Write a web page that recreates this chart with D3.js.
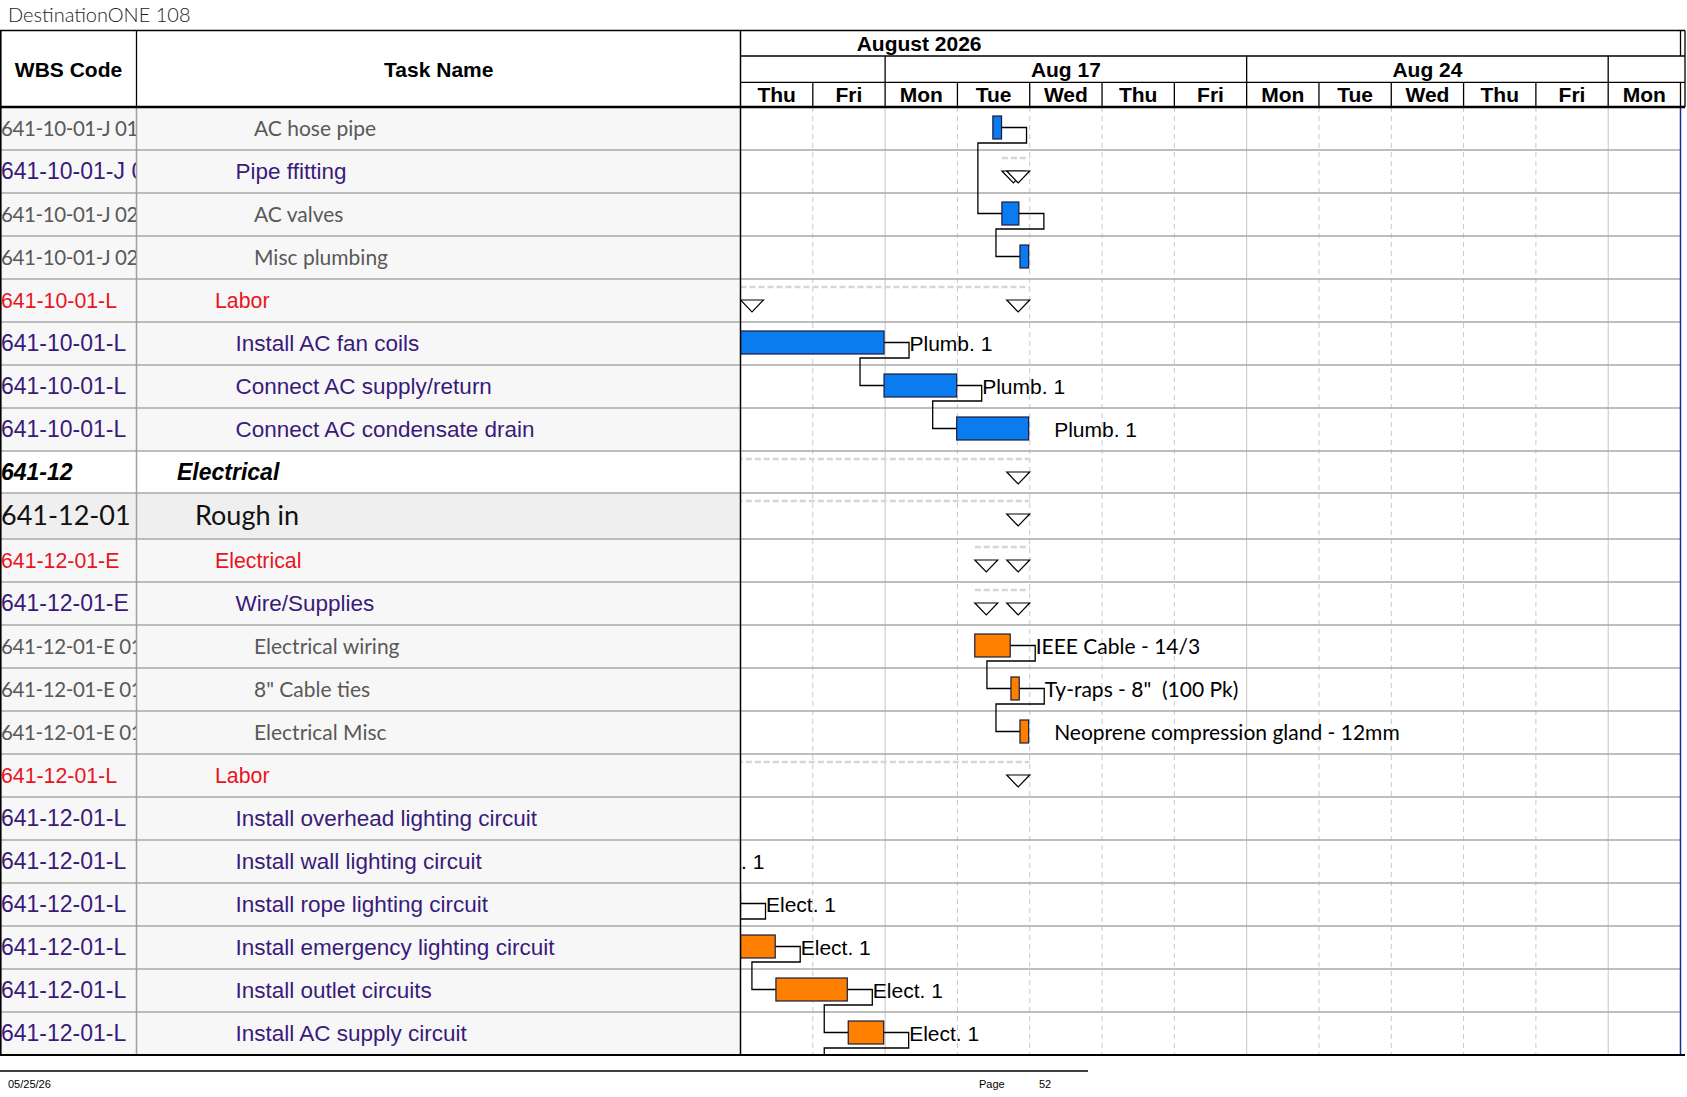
<!DOCTYPE html>
<html>
<head>
<meta charset="utf-8">
<script src="https://cdn.jsdelivr.net/npm/d3@7"></script>
<style>
  body { margin: 0; background: #fff; }
  svg { display: block; }
  text { white-space: pre; }
</style>
</head>
<body>
<div id="gantt"></div>
<script>
// ---- data ----
const wbsCodes = [
  "641-10-01-J 01", "641-10-01-J 02", "641-10-01-J 02 01", "641-10-01-J 02 02",
  "641-10-01-L", "641-10-01-L", "641-10-01-L", "641-10-01-L",
  "641-12", "641-12-01", "641-12-01-E", "641-12-01-E",
  "641-12-01-E 01 01", "641-12-01-E 01 02", "641-12-01-E 01 03",
  "641-12-01-L", "641-12-01-L", "641-12-01-L", "641-12-01-L", "641-12-01-L", "641-12-01-L", "641-12-01-L"
]
const taskNames = [
  "AC hose pipe", "Pipe ffitting", "AC valves", "Misc plumbing",
  "Labor", "Install AC fan coils", "Connect AC supply/return", "Connect AC condensate drain",
  "Electrical", "Rough in", "Electrical", "Wire/Supplies",
  "Electrical wiring", "8\" Cable ties", "Electrical Misc",
  "Labor", "Install overhead lighting circuit", "Install wall lighting circuit", "Install rope lighting circuit",
  "Install emergency lighting circuit", "Install outlet circuits", "Install AC supply circuit"
]
// row kind drives the text style of the table
const rowKinds = [
  "item", "task", "item", "item",
  "group", "task", "task", "task",
  "phase", "section", "group", "task",
  "item", "item", "item",
  "group", "task", "task", "task", "task", "task", "task"
]
const isSummary = [0,1,0,0, 1,0,0,0, 1,1,1,1, 0,0,0, 1,0,0,0,0,0,0]
const trades = [
  "plumb","plumb","plumb","plumb","plumb","plumb","plumb","plumb",
  "elec","elec","elec","elec","elec","elec","elec","elec","elec","elec","elec","elec","elec","elec"
]
// start / finish in working days from Thu Aug 13, 2026 (fractions = hours)
const startDays  = [3.49, 3.615, 3.615, 3.865, 0, 0, 1.985, 2.99, -12, -12, 3.24, 3.24, 3.24, 3.74, 3.865, -12, -2.5, -1.5, -1, 0, 0.49, 1.49]
const finishDays = [3.61, 4, 3.85, 3.985, 4, 1.985, 2.99, 3.985, 4, 4, 4, 4, 3.73, 3.855, 3.985, 4, -1.5, -0.99, 0, 0.48, 1.477, 1.98]
const resourceLabels = [
  "", "", "", "", "", "Plumb. 1", "Plumb. 1", "Plumb. 1", "", "", "", "",
  "IEEE Cable - 14/3", "Ty-raps - 8\"  (100 Pk)", "Neoprene compression gland - 12mm",
  "", "Elect. 1", "Elect. 1", "Elect. 1", "Elect. 1", "Elect. 1", "Elect. 1"
]
// index of the successor row, -1 = none, 22 = continues on next page
const successors = [2, -1, 3, -1, -1, 6, 7, -1, -1, -1, -1, -1, 13, 14, -1, -1, 17, 18, 19, 20, 21, 22]

const workDays = [
  "2026-08-13", "2026-08-14", "2026-08-17", "2026-08-18", "2026-08-19", "2026-08-20", "2026-08-21",
  "2026-08-24", "2026-08-25", "2026-08-26", "2026-08-27", "2026-08-28", "2026-08-31"
]

const title = "DestinationONE 108"
const printDate = "05/25/26"
const pageNumber = "52"

// ---- layout ----
const width = 1687, height = 1097
const wbsRight = 137
const ganttLeft = 740.5, ganttRight = 1680.5, frameRight = 1685
const headTop = 30.5, monthBottom = 56, weekBottom = 82.3, headBottom = 107
const rowHeights = taskNames.map((d, i) => i === 8 ? 42 : i === 9 ? 46 : 43)
const rowTops = []
rowHeights.reduce((acc, h, i) => { rowTops[i] = acc; return acc + h }, headBottom)
const bodyBottom = rowTops[rowTops.length - 1] + rowHeights[rowHeights.length - 1]

const arial = "'Liberation Sans', Arial, sans-serif"
const lato = "Lato, 'Open Sans', sans-serif"
const tradeColors = { plumb: "#0a7cf0", elec: "#ff8000" }

const styles = {
  item:    { font: lato,  size: 21,   wbsSize: 20.5, spacing: -0.4, weight: 400, italic: false, color: "#595959", indent: 254 },
  task:    { font: arial, size: 22.5, wbsSize: 23, spacing: 0, weight: 400, italic: false, color: "#3a1a7a", indent: 235.5 },
  group:   { font: arial, size: 21.3, wbsSize: 21.3, spacing: 0, weight: 400, italic: false, color: "#e8141e", indent: 215 },
  phase:   { font: arial, size: 23,   wbsSize: 23, spacing: 0, weight: 700, italic: true,  color: "#000", indent: 177 },
  section: { font: lato,  size: 27,   wbsSize: 27, spacing: 0, weight: 400, italic: false, color: "#111", indent: 195 }
}
const rowFills = { phase: "#ffffff", section: "#efefef" }

const parseDay = d3.timeParse("%Y-%m-%d")
const dates = workDays.map(parseDay)

const x = d3.scaleLinear()
  .domain([0, dates.length])
  .range([ganttLeft, ganttRight])

const rows = taskNames.map((name, i) => ({
  i, name, wbs: wbsCodes[i], kind: rowKinds[i],
  top: rowTops[i], h: rowHeights[i],
  summary: !!isSummary[i], start: startDays[i], finish: finishDays[i],
  label: resourceLabels[i], succ: successors[i], color: tradeColors[trades[i]]
}))

const svg = d3.select("#gantt").append("svg")
  .attr("width", width)
  .attr("height", height)

const defs = svg.append("defs")
defs.append("clipPath").attr("id", "clip-wbs")
  .append("rect").attr("x", 0).attr("y", headBottom).attr("width", wbsRight - 1).attr("height", bodyBottom - headBottom)
defs.append("clipPath").attr("id", "clip-name")
  .append("rect").attr("x", wbsRight).attr("y", headBottom).attr("width", ganttLeft - wbsRight).attr("height", bodyBottom - headBottom)
defs.append("clipPath").attr("id", "clip-gantt")
  .append("rect").attr("x", ganttLeft).attr("y", headBottom).attr("width", ganttRight - ganttLeft).attr("height", bodyBottom - headBottom)

// page title
svg.append("text")
  .attr("x", 8).attr("y", 22)
  .attr("font-family", lato).attr("font-weight", 300).attr("font-size", 20)
  .attr("fill", "#222")
  .text(title)

// ---- table body ----
const table = svg.append("g")

table.selectAll(".row-bg")
  .data(rows)
  .join("rect")
  .attr("class", "row-bg")
  .attr("x", 0).attr("y", d => d.top)
  .attr("width", ganttLeft).attr("height", d => d.h)
  .attr("fill", d => rowFills[d.kind] || "#f7f7f7")

const wbsText = table.append("g").attr("clip-path", "url(#clip-wbs)")
wbsText.selectAll("text")
  .data(rows)
  .join("text")
  .attr("x", 1)
  .attr("y", d => d.top + d.h / 2 + styles[d.kind].wbsSize * 0.345)
  .attr("font-family", d => styles[d.kind].font)
  .attr("font-size", d => styles[d.kind].wbsSize)
  .attr("letter-spacing", d => styles[d.kind].spacing)
  .attr("font-weight", d => styles[d.kind].weight)
  .attr("font-style", d => styles[d.kind].italic ? "italic" : "normal")
  .attr("fill", d => styles[d.kind].color)
  .text(d => d.wbs)

const nameText = table.append("g").attr("clip-path", "url(#clip-name)")
nameText.selectAll("text")
  .data(rows)
  .join("text")
  .attr("x", d => styles[d.kind].indent)
  .attr("y", d => d.top + d.h / 2 + styles[d.kind].size * 0.345)
  .attr("font-family", d => styles[d.kind].font)
  .attr("font-size", d => styles[d.kind].size)
  .attr("font-weight", d => styles[d.kind].weight)
  .attr("font-style", d => styles[d.kind].italic ? "italic" : "normal")
  .attr("fill", d => styles[d.kind].color)
  .text(d => d.name)

// ---- gantt grid ----
const grid = svg.append("g")
const boundaries = d3.range(1, dates.length)
grid.selectAll(".day-line")
  .data(boundaries)
  .join("line")
  .attr("class", "day-line")
  .attr("x1", d => x(d)).attr("x2", d => x(d))
  .attr("y1", headBottom).attr("y2", bodyBottom)
  .attr("stroke", d => dates[d].getDay() === 1 ? "#c4c4c4" : "#c8c8c8")
  .attr("stroke-width", 1)
  .attr("stroke-dasharray", d => dates[d].getDay() === 1 ? null : "5,4")

// horizontal row lines across table and chart
svg.append("g").selectAll("line")
  .data(rows.slice(1))
  .join("line")
  .attr("x1", 0).attr("x2", ganttRight)
  .attr("y1", d => d.top).attr("y2", d => d.top)
  .attr("stroke", "#a8a8a8").attr("stroke-width", 1.5)

// WBS / task name separator in body
svg.append("line")
  .attr("x1", wbsRight - 0.5).attr("x2", wbsRight - 0.5)
  .attr("y1", headBottom).attr("y2", bodyBottom)
  .attr("stroke", "#a0a0a0").attr("stroke-width", 1.5)

// ---- bars, summaries, links ----
const chart = svg.append("g").attr("clip-path", "url(#clip-gantt)")
const barTop = d => d.top + 9
const barH = 23
const barMid = d => barTop(d) + barH / 2

const summaries = rows.filter(d => d.summary)
chart.selectAll(".summary-line")
  .data(summaries)
  .join("line")
  .attr("class", "summary-line")
  .attr("x1", d => x(d.start)).attr("x2", d => x(d.finish))
  .attr("y1", d => d.top + 8).attr("y2", d => d.top + 8)
  .attr("stroke", "#d6d6d6").attr("stroke-width", 2.5)
  .attr("stroke-dasharray", "6,3")

const triW = 23, triH = 12
chart.selectAll(".tri-start")
  .data(summaries.filter(d => d.start >= 0))
  .join("path")
  .attr("class", "tri-start")
  .attr("d", d => {
    const s = x(d.start), t = d.top + 21
    return `M${s},${t}H${s + triW}L${s + triW / 2},${t + triH}Z`
  })
  .attr("fill", "#fff").attr("stroke", "#000").attr("stroke-width", 1.2)
chart.selectAll(".tri-end")
  .data(summaries)
  .join("path")
  .attr("class", "tri-end")
  .attr("d", d => {
    const e = x(d.finish), t = d.top + 21
    return `M${e - triW},${t}H${e}L${e - triW / 2},${t + triH}Z`
  })
  .attr("fill", "#fff").attr("stroke", "#000").attr("stroke-width", 1.2)

const tasks = rows.filter(d => !d.summary)

// links: out of the bar end, drop below, back left, down to the next bar start
const links = tasks.filter(d => d.succ >= 0)
chart.selectAll(".link")
  .data(links)
  .join("path")
  .attr("class", "link")
  .attr("d", d => {
    const e = x(d.finish)
    const next = rows[d.succ]
    const s = next ? x(next.start) : x(d.start)
    const yNext = next ? barMid(next) : bodyBottom + 30
    const yDrop = barTop(d) + barH + 4
    return `M${e},${barMid(d)}H${e + 25}V${yDrop}H${s - 24}V${yNext}H${s}`
  })
  .attr("fill", "none").attr("stroke", "#000").attr("stroke-width", 1.3)

chart.selectAll(".bar")
  .data(tasks)
  .join("rect")
  .attr("class", "bar")
  .attr("x", d => x(d.start))
  .attr("y", barTop)
  .attr("width", d => x(d.finish) - x(d.start))
  .attr("height", barH)
  .attr("fill", d => d.color)
  .attr("stroke", "#1b1b3a").attr("stroke-width", 1.2)

chart.selectAll(".res-label")
  .data(tasks.filter(d => d.label))
  .join("text")
  .attr("class", "res-label")
  .attr("x", d => x(d.finish) + 25.5)
  .attr("y", d => barMid(d) + 8)
  .attr("font-family", d => d.kind === "item" ? lato : arial)
  .attr("font-size", 21)
  .attr("fill", "#000")
  .text(d => d.label)

// project finish marker at right edge
svg.append("line")
  .attr("x1", ganttRight).attr("x2", ganttRight)
  .attr("y1", headBottom).attr("y2", bodyBottom)
  .attr("stroke", "#1f2a9a").attr("stroke-width", 1.5)

// ---- header ----
const head = svg.append("g")
const headFont = g => g.attr("font-family", arial).attr("font-weight", 700).attr("font-size", 21).attr("fill", "#000")

head.append("rect")
  .attr("x", 0).attr("y", headTop).attr("width", frameRight).attr("height", headBottom - headTop)
  .attr("fill", "#fff")

head.append("text").call(headFont)
  .attr("x", wbsRight / 2).attr("y", 76.7).attr("text-anchor", "middle").text("WBS Code")
head.append("text").call(headFont)
  .attr("x", (wbsRight + ganttLeft) / 2).attr("y", 76.7).attr("text-anchor", "middle").text("Task Name")

// month row
head.append("text").call(headFont)
  .attr("x", x(2.47)).attr("y", 51).attr("text-anchor", "middle")
  .text(d3.timeFormat("%B %Y")(dates[0]))

// week row
const weekStarts = d3.range(dates.length).filter(i => dates[i].getDay() === 1)
head.selectAll(".week-line")
  .data(weekStarts)
  .join("line")
  .attr("class", "week-line")
  .attr("x1", d => x(d)).attr("x2", d => x(d))
  .attr("y1", monthBottom).attr("y2", weekBottom)
  .attr("stroke", "#000").attr("stroke-width", 1.3)
head.selectAll(".week-label")
  .data(weekStarts.filter(i => i + 5 <= dates.length))
  .join("text").call(headFont)
  .attr("class", "week-label")
  .attr("x", d => (x(d) + x(d + 5)) / 2).attr("y", 76.7).attr("text-anchor", "middle")
  .text(d => d3.timeFormat("%b %-d")(dates[d]))

// day row
head.selectAll(".day-tick")
  .data(d3.range(1, dates.length + 1))
  .join("line")
  .attr("class", "day-tick")
  .attr("x1", d => x(d)).attr("x2", d => x(d))
  .attr("y1", weekBottom).attr("y2", headBottom)
  .attr("stroke", "#000").attr("stroke-width", 1.3)
head.selectAll(".day-label")
  .data(dates)
  .join("text").call(headFont)
  .attr("class", "day-label")
  .attr("x", (d, i) => (x(i) + x(i + 1)) / 2).attr("y", 101.5).attr("text-anchor", "middle")
  .text(d => d3.timeFormat("%a")(d))

const hline = (x1, x2, y, w) => svg.append("line")
  .attr("x1", x1).attr("x2", x2).attr("y1", y).attr("y2", y)
  .attr("stroke", "#000").attr("stroke-width", w)
const vline = (xx, y1, y2, w) => svg.append("line")
  .attr("x1", xx).attr("x2", xx).attr("y1", y1).attr("y2", y2)
  .attr("stroke", "#000").attr("stroke-width", w)

hline(0, frameRight, headTop, 1.5)
hline(ganttLeft, frameRight, monthBottom, 1.3)
hline(ganttLeft, frameRight, weekBottom, 1.3)
hline(0, frameRight, headBottom, 2.6)
hline(0, frameRight, bodyBottom, 2)
vline(0.8, headTop, bodyBottom, 1.6)
vline(wbsRight - 0.5, headTop, headBottom, 1.3)
vline(ganttLeft, headTop, bodyBottom, 1.5)
vline(ganttRight, headTop, monthBottom, 1.3)
vline(frameRight, headTop, headBottom, 1.3)

// ---- footer ----
hline(0, 1088, 1071, 1.5)
const footFont = g => g.attr("font-family", arial).attr("font-size", 11).attr("fill", "#000")
svg.append("text").call(footFont).attr("x", 8).attr("y", 1088).text(printDate)
svg.append("text").call(footFont).attr("x", 979).attr("y", 1088).text("Page")
svg.append("text").call(footFont).attr("x", 1039).attr("y", 1088).text(pageNumber)
</script>
</body>
</html>
